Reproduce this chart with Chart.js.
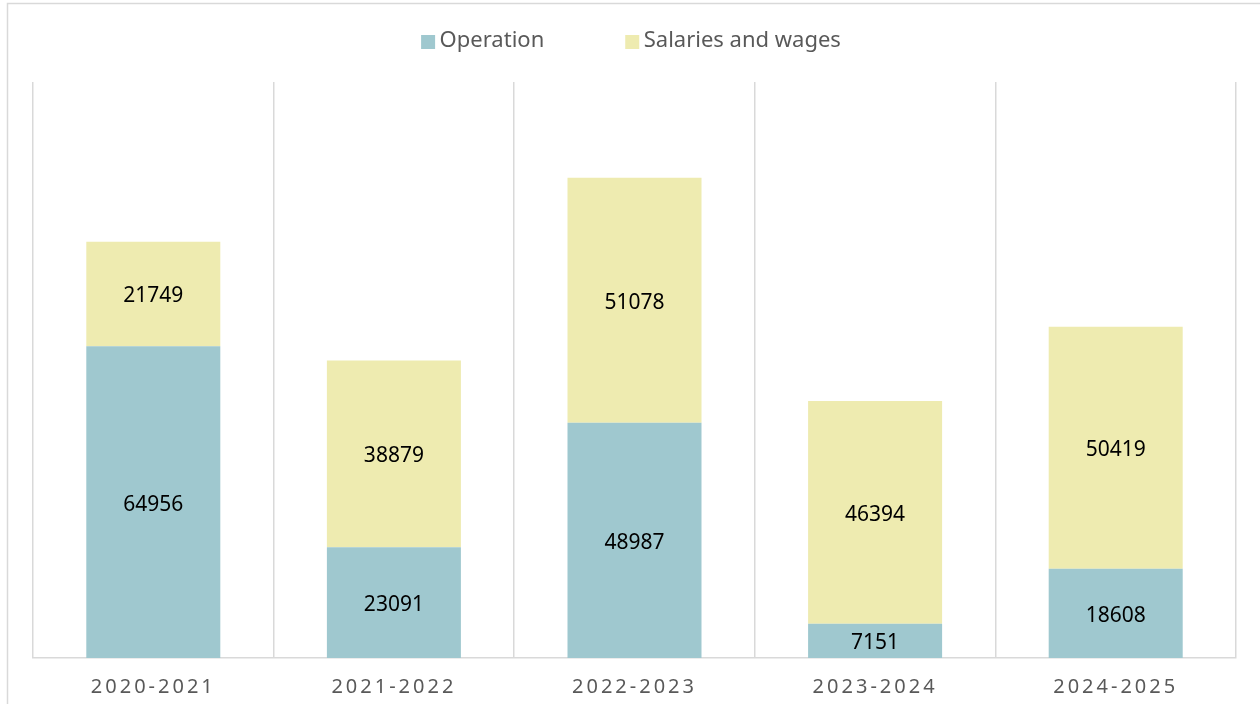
<!DOCTYPE html>
<html>
<head>
<meta charset="utf-8">
<script src="https://cdn.jsdelivr.net/npm/chart.js@4.4.1/dist/chart.umd.min.js"></script>
<style>
  html, body { margin: 0; padding: 0; background: #ffffff; }
  #wrap { width: 1260px; height: 704px; position: relative; overflow: hidden; }
</style>
</head>
<body>
<div id="wrap"><canvas id="c" width="1260" height="704"></canvas></div>
<script>
const categories = ['2020-2021', '2021-2022', '2022-2023', '2023-2024', '2024-2025'];
const operation = [64956, 23091, 48987, 7151, 18608];
const salaries = [21749, 38879, 51078, 46394, 50419];
const seriesNames = ['Operation', 'Salaries and wages'];
const seriesColors = ['#9FC8CF', '#EEEBB0'];
const yMin = 0;
const yMax = 120000;

const FONT = '"Noto Sans", "Open Sans", sans-serif';
const TEXT_GRAY = '#595959';
const LINE_GRAY = '#D9D9D9';

const decor = {
  id: 'decor',
  beforeDraw(chart) {
    const ctx = chart.ctx;
    ctx.save();
    ctx.strokeStyle = LINE_GRAY;
    ctx.lineWidth = 1.5;
    ctx.strokeRect(7.5, 3.5, 1500, 1000);
    ctx.restore();
    ctx.letterSpacing = '3px';
  },
  beforeDatasetsDraw(chart) {
    chart.ctx.letterSpacing = '0px';
  },
  afterDatasetsDraw(chart) {
    const ctx = chart.ctx;
    ctx.save();
    ctx.letterSpacing = '0px';
    ctx.font = '21px ' + FONT;
    ctx.fillStyle = '#000000';
    ctx.textAlign = 'center';
    ctx.textBaseline = 'middle';
    chart.data.datasets.forEach((ds, di) => {
      const meta = chart.getDatasetMeta(di);
      meta.data.forEach((el, i) => {
        const v = ds.data[i];
        const p = el.getProps(['x', 'y', 'base'], true);
        ctx.fillText(String(v), p.x, (p.y + p.base) / 2 + 2.5);
      });
    });
    ctx.restore();
  },
  afterDraw(chart) {
    const ctx = chart.ctx;
    ctx.save();
    ctx.letterSpacing = '0px';
    ctx.font = '22px ' + FONT;
    ctx.textBaseline = 'middle';
    ctx.textAlign = 'left';
    const box = 14, gapText = 4.5, gapItem = 81;
    const items = chart.data.datasets.map(ds => ({
      text: ds.label, color: ds.backgroundColor, w: ctx.measureText(ds.label).width
    }));
    let total = 0;
    items.forEach((it, i) => { total += box + gapText + it.w + (i > 0 ? gapItem : 0); });
    let x = 631 - total / 2;
    const cy = 41;
    items.forEach((it) => {
      ctx.fillStyle = it.color;
      ctx.fillRect(x, cy - box / 2 + 1, box, box);
      ctx.fillStyle = TEXT_GRAY;
      ctx.fillText(it.text, x + box + gapText, cy);
      x += box + gapText + it.w + gapItem;
    });
    ctx.restore();
  }
};

new Chart(document.getElementById('c'), {
  type: 'bar',
  data: {
    labels: categories,
    datasets: [
      { label: seriesNames[0], data: operation, backgroundColor: seriesColors[0], borderWidth: 0 },
      { label: seriesNames[1], data: salaries, backgroundColor: seriesColors[1], borderWidth: 0 }
    ]
  },
  options: {
    responsive: false,
    animation: false,
    events: [],
    layout: { padding: { left: 33, right: 24, top: 82, bottom: 6 } },
    datasets: { bar: { barPercentage: 0.557, categoryPercentage: 1.0 } },
    plugins: { legend: { display: false }, tooltip: { enabled: false } },
    scales: {
      x: {
        stacked: true,
        afterFit(scale) { scale.height = 40; },
        grid: { display: true, offset: true, color: LINE_GRAY, lineWidth: 1.5, drawTicks: false },
        border: { display: true, color: LINE_GRAY, width: 1.5 },
        ticks: { color: TEXT_GRAY, font: { family: FONT, size: 20 }, padding: 17, maxRotation: 0 }
      },
      y: {
        stacked: true,
        display: false,
        min: yMin,
        max: yMax
      }
    }
  },
  plugins: [decor]
});
</script>
</body>
</html>
